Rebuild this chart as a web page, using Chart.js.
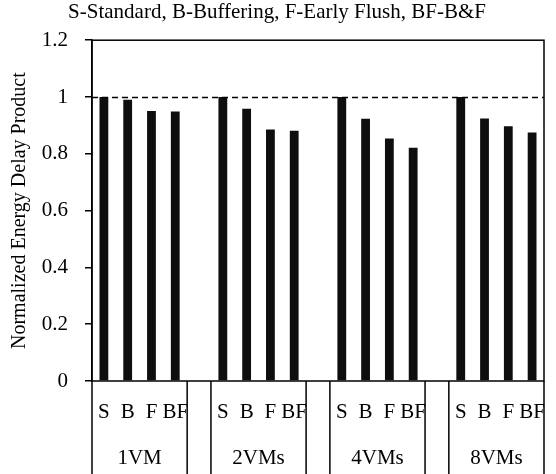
<!DOCTYPE html>
<html>
<head>
<meta charset="utf-8">
<script src="https://cdn.jsdelivr.net/npm/chart.js@4/dist/chart.umd.min.js"></script>
<style>
  html, body { margin: 0; padding: 0; background: #fff; }
  #wrap { width: 556px; height: 474px; }
</style>
</head>
<body>
<div id="wrap"><canvas id="c" width="556" height="474"></canvas></div>
<script>
// Normalized EDP per scheme, grouped by VM count. Blank slots separate the groups.
const SCHEMES = ["S", "B", "F", "BF"];
const GROUPS = ["1VM", "2VMs", "4VMs", "8VMs"];
const VM1 = [1.0, 0.99, 0.951, 0.949];
const VM2 = [1.0, 0.959, 0.886, 0.881];
const VM4 = [1.0, 0.923, 0.854, 0.821];
const VM8 = [1.0, 0.924, 0.897, 0.875];
const Y_TICKS = [0, 0.2, 0.4, 0.6, 0.8, 1, 1.2];
const REF_LINE = 1;
const TITLE = "S-Standard, B-Buffering, F-Early Flush, BF-B&F";
const Y_TITLE = "Normalized Energy Delay Product";

const FONT = "'Liberation Serif', 'Times New Roman', serif";
const SIZE = 21;

// flatten groups into one category axis, with an empty slot between groups
const labels = [], values = [];
[VM1, VM2, VM4, VM8].forEach((vals, g) => {
  if (g > 0) { labels.push(""); values.push(null); }
  SCHEMES.forEach((s, i) => { labels.push(s); values.push(vals[i]); });
});

// frame, dashed reference line, group separators and group names
const decor = {
  id: "decor",
  afterDraw(chart) {
    const { ctx, chartArea: a, scales: { x, y } } = chart;
    const half = (x.getPixelForValue(1) - x.getPixelForValue(0)) / 2;
    ctx.save();
    ctx.strokeStyle = "#000";
    ctx.lineWidth = 1.5;
    ctx.strokeRect(a.left, a.top, a.right - a.left, a.bottom - a.top);

    const yr = Math.round(y.getPixelForValue(REF_LINE)) + 0.5;
    ctx.setLineDash([6, 4]);
    ctx.beginPath(); ctx.moveTo(a.left, yr); ctx.lineTo(a.right, yr); ctx.stroke();
    ctx.setLineDash([]);

    ctx.fillStyle = "#000";
    ctx.font = `${SIZE}px ${FONT}`;
    ctx.textAlign = "center";
    ctx.textBaseline = "middle";
    GROUPS.forEach((name, g) => {
      const s = g * (SCHEMES.length + 1), e = s + SCHEMES.length - 1;
      const l = x.getPixelForValue(s) - half, r = x.getPixelForValue(e) + half;
      [l, r].forEach((px) => {
        ctx.beginPath(); ctx.moveTo(px, a.bottom); ctx.lineTo(px, chart.height); ctx.stroke();
      });
      ctx.fillText(name, (l + r) / 2, 458);
    });
    ctx.restore();
  },
};

new Chart(document.getElementById("c"), {
  type: "bar",
  data: {
    labels,
    datasets: [{
      data: values,
      backgroundColor: "#0e0e0e",
      borderWidth: 0,
      categoryPercentage: 1,
      barPercentage: 0.37,
    }],
  },
  options: {
    responsive: false,
    animation: false,
    layout: { padding: { left: 0, right: 2, top: 0, bottom: 0 } },
    plugins: {
      legend: { display: false },
      tooltip: { enabled: false },
      title: {
        display: true, text: TITLE, color: "#000",
        font: { family: FONT, size: SIZE, weight: "normal" },
        padding: { top: 0, bottom: 15 },
        align: "center",
      },
    },
    scales: {
      x: {
        grid: { display: false },
        border: { display: false },
        ticks: { color: "#000", font: { family: FONT, size: SIZE }, padding: 11, maxRotation: 0, autoSkip: false },
        afterFit: (s) => { s.height = 93; },
      },
      y: {
        min: 0, max: 1.2,
        afterBuildTicks: (s) => { s.ticks = Y_TICKS.map((v) => ({ value: v })); },
        grid: { drawOnChartArea: false, color: "#000", tickLength: 7, lineWidth: 1.5 },
        border: { display: true, color: "#000", width: 1.5 },
        ticks: { color: "#000", font: { family: FONT, size: SIZE }, padding: 17, callback: (v) => String(v) },
        title: {
          display: true, text: Y_TITLE, color: "#000",
          font: { family: FONT, size: 20 }, padding: { top: 8, bottom: 0 },
        },
        afterFit: (s) => { s.width = 92; },
      },
    },
  },
  plugins: [decor],
});
</script>
</body>
</html>
